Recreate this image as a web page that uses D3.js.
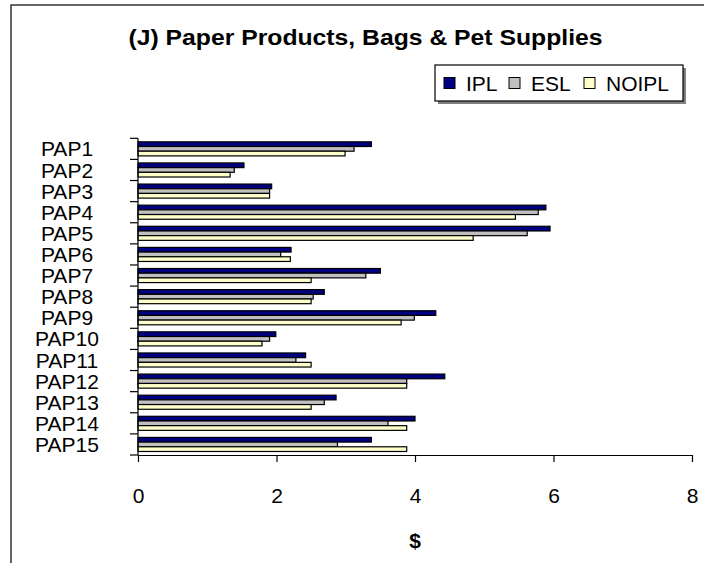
<!DOCTYPE html>
<html>
<head>
<meta charset="utf-8">
<script src="https://cdn.jsdelivr.net/npm/d3@7"></script>
<style>
  html, body { margin: 0; padding: 0; background: #fff; }
  svg { display: block; font-family: Arial, "Liberation Sans", sans-serif; }
</style>
</head>
<body>
<svg id="chart" width="704" height="563"></svg>
<script>
const categories = ["PAP1","PAP2","PAP3","PAP4","PAP5","PAP6","PAP7","PAP8","PAP9","PAP10","PAP11","PAP12","PAP13","PAP14","PAP15"];
const seriesNames = ["IPL","ESL","NOIPL"];
const iplValues   = [3.37,1.53,1.93,5.89,5.95,2.21,3.50,2.69,4.30,1.99,2.42,4.43,2.86,4.00,3.37];
const eslValues   = [3.12,1.39,1.90,5.78,5.62,2.06,3.29,2.53,3.99,1.90,2.28,3.88,2.69,3.61,2.88];
const noiplValues = [2.99,1.33,1.90,5.45,4.84,2.20,2.50,2.50,3.80,1.79,2.50,3.88,2.50,3.88,3.88];
const xTicks = [0,2,4,6,8];
const colors = ["#000080","#C0C0C0","#FFFFCC"];

const seriesValues = [iplValues, eslValues, noiplValues];
const rows = categories.map((c, i) => ({cat: c, vals: seriesNames.map((s, j) => ({series: s, value: seriesValues[j][i], idx: j}))}));

const svg = d3.select("#chart");

// chart frame (extends beyond visible area on right/bottom)
svg.append("rect").attr("x", 11).attr("y", 5).attr("width", 760).attr("height", 620)
  .attr("fill", "#fff").attr("stroke", "#000").attr("stroke-width", 1.2);

const x = d3.scaleLinear().domain([0, 8]).range([138, 692]);
const y0 = d3.scaleBand().domain(categories).range([138.3, 455]).padding(0);
const y1 = d3.scaleBand().domain(seriesNames).range([0, y0.bandwidth()]).paddingInner(0).paddingOuter(0.75);

// bars
const g = svg.append("g");
const groups = g.selectAll("g.cat").data(rows).join("g")
  .attr("class", "cat").attr("transform", d => `translate(0,${y0(d.cat)})`);
groups.selectAll("rect").data(d => d.vals).join("rect")
  .attr("x", x(0))
  .attr("y", d => y1(d.series))
  .attr("width", d => x(d.value) - x(0))
  .attr("height", y1.bandwidth())
  .attr("fill", d => colors[d.idx])
  .attr("stroke", "#000").attr("stroke-width", 1.2);

// y axis line and boundary ticks
const bounds = categories.map(c => y0(c)).concat([y0.range()[1]]);
svg.append("line").attr("x1", x(0)).attr("x2", x(0)).attr("y1", y0.range()[0]).attr("y2", y0.range()[1])
  .attr("stroke", "#000").attr("stroke-width", 1.2);
svg.selectAll("line.yt").data(bounds).join("line").attr("class", "yt")
  .attr("x1", x(0) - 8).attr("x2", x(0)).attr("y1", d => d).attr("y2", d => d)
  .attr("stroke", "#000").attr("stroke-width", 1.2);

// category labels (centred)
svg.selectAll("text.cl").data(categories).join("text").attr("class", "cl")
  .attr("x", 67).attr("y", d => y0(d) + y0.bandwidth() / 2)
  .attr("dy", "0.36em").attr("text-anchor", "middle")
  .attr("font-size", 21).attr("fill", "#000").text(d => d);

// x axis
const xAxis = svg.append("g").attr("transform", `translate(0,${y0.range()[1]})`)
  .call(d3.axisBottom(x).tickValues(xTicks).tickSize(7).tickSizeOuter(0).tickPadding(26).tickFormat(d3.format("d")));
xAxis.select(".domain").attr("stroke", "#000").attr("stroke-width", 1.2);
xAxis.selectAll(".tick line").attr("stroke", "#000").attr("stroke-width", 1.2);
xAxis.selectAll("text").attr("font-size", 21).attr("font-family", "Arial, 'Liberation Sans', sans-serif").attr("fill", "#000");

// axis title
svg.append("text").attr("x", (x.range()[0] + x.range()[1]) / 2).attr("y", 548)
  .attr("text-anchor", "middle").attr("font-size", 21).attr("font-weight", "bold").text("$");

// title
svg.append("text").attr("x", 365.5).attr("y", 45)
  .attr("text-anchor", "middle").attr("font-size", 21.5).attr("font-weight", "bold")
  .attr("textLength", 474).attr("lengthAdjust", "spacingAndGlyphs")
  .text("(J) Paper Products, Bags & Pet Supplies");

// legend
const lg = svg.append("g").attr("transform", "translate(435,65)");
lg.append("rect").attr("x", 3).attr("y", 3).attr("width", 248).attr("height", 36).attr("fill", "#808080");
lg.append("rect").attr("x", 0).attr("y", 0).attr("width", 248).attr("height", 36).attr("fill", "#fff").attr("stroke", "#000").attr("stroke-width", 1.2);
const itemX = [9, 74, 149];
const items = lg.selectAll("g.li").data(seriesNames).join("g").attr("class", "li")
  .attr("transform", (d, i) => `translate(${itemX[i]},0)`);
items.append("rect").attr("x", 0).attr("y", 12.5).attr("width", 11).attr("height", 11)
  .attr("fill", (d, i) => colors[i]).attr("stroke", "#000").attr("stroke-width", 1);
items.append("text").attr("x", 22).attr("y", 18).attr("dy", "0.36em")
  .attr("font-size", 21).attr("fill", "#000").text(d => d);
</script>
</body>
</html>
